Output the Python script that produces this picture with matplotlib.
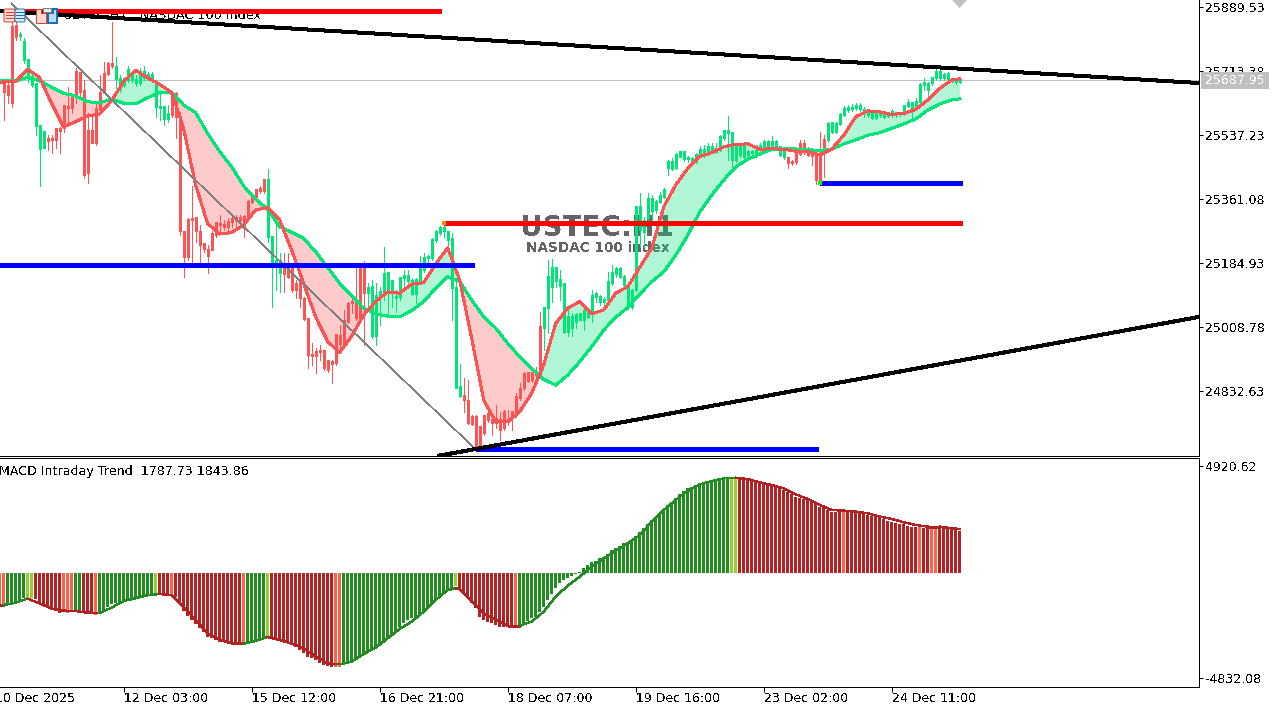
# -*- coding: utf-8 -*-
# USTEC H1 chart with MA cloud, levels and MACD pane
import matplotlib
matplotlib.use('Agg')
import matplotlib.pyplot as plt
from matplotlib.patches import Rectangle, Polygon, FancyBboxPatch

plt.rcParams['font.family'] = ['DejaVu Sans']
plt.rcParams['text.antialiased'] = False

opens = [
    25680,25675,25836,25840,25810,25744,25703,25675,25562,25498,
    25501,25528,25528,25556,25556,25620,25617,25643,25712,25709,
    25661,25549,25549,25611,25654,25707,25735,25735,25691,25663,
    25675,25689,25689,25680,25680,25693,25696,25689,25615,25611,
    25581,25581,25652,25652,25588,25272,25304,25308,25310,25273,
    25238,25224,25267,25296,25294,25292,25301,25308,25310,25311,
    25313,25356,25370,25389,25391,25416,25256,25184,25184,25157,
    25184,25171,25175,25129,25140,25088,25033,24935,24941,24946,
    24946,24916,24914,24989,24987,25028,25074,25079,25079,25175,
    25172,25102,24983,24983,25097,25100,25102,25104,25088,25091,
    25143,25137,25100,25100,25137,25166,25198,25198,25248,25269,
    25272,25248,25116,24842,24819,24822,24808,24762,24762,24735,
    24767,24772,24756,24758,24756,24776,24756,24776,24817,24840,
    24882,24884,24884,24882,25010,25005,25061,25120,25136,25122,
    24996,24994,25005,25024,25028,25028,25038,25047,25093,25079,
    25077,25083,25129,25155,25148,25125,25065,25065,25111,25276,
    25271,25308,25327,25331,25354,25368,25446,25443,25446,25478,
    25471,25471,25460,25464,25482,25482,25487,25489,25492,25496,
    25528,25542,25469,25469,25482,25478,25482,25487,25482,25496,
    25505,25505,25505,25503,25482,25478,25475,25466,25489,25515,
    25515,25496,25492,25482,25487,25526,25524,25547,25547,25568,
    25593,25606,25608,25611,25608,25597,25592,25583,25583,25593,
    25586,25590,25593,25593,25594,25597,25617,25608,25611,25629,
    25675,25661,25680,25693,25693,25693,25691,25686,25682,25682]
closes = [
    25657,25648,25625,25808,25815,25794,25746,25698,25680,25565,
    25547,25522,25524,25524,25549,25556,25611,25611,25648,25657,
    25427,25432,25515,25515,25606,25652,25705,25727,25726,25693,
    25693,25718,25707,25691,25712,25712,25703,25703,25684,25617,
    25615,25597,25593,25588,25272,25203,25201,25304,25272,25235,
    25224,25205,25221,25262,25290,25283,25283,25299,25304,25304,
    25281,25311,25354,25366,25382,25382,25416,25258,25192,25192,
    25155,25148,25111,25111,25088,25031,24932,24930,24929,24941,
    24895,24891,24907,24909,24962,24964,25024,25074,25033,25031,
    25102,25118,25122,25097,25106,25157,25159,25137,25093,25145,
    25150,25152,25138,25140,25171,25200,25203,25250,25272,25282,
    25282,25273,25253,25117,24845,24808,24744,24742,24675,24675,
    24717,24753,24746,24744,24726,24730,24749,24767,24767,24813,
    24840,24861,24863,24877,24877,25063,25148,25172,25172,25140,
    25129,25038,25038,25044,25047,25054,25054,25097,25102,25093,
    25086,25134,25159,25171,25171,25149,25127,25111,25342,25342,
    25302,25363,25363,25354,25370,25388,25464,25464,25484,25492,
    25492,25476,25473,25485,25498,25498,25505,25505,25501,25533,
    25549,25549,25545,25510,25510,25510,25492,25492,25496,25510,
    25519,25519,25519,25519,25505,25492,25460,25461,25462,25484,
    25492,25482,25480,25414,25411,25487,25570,25571,25570,25595,
    25611,25614,25614,25620,25620,25608,25597,25599,25597,25597,
    25595,25597,25602,25599,25599,25620,25626,25626,25629,25678,
    25682,25680,25696,25712,25712,25705,25707,25691,25686,25689]
highs = [
    25689,25680,25881,25863,25822,25804,25748,25703,25680,25565,
    25547,25538,25538,25556,25560,25620,25670,25643,25721,25709,
    25689,25597,25588,25625,25703,25739,25739,25849,25753,25703,
    25693,25726,25712,25703,25721,25726,25712,25712,25689,25652,
    25615,25620,25657,25657,25600,25272,25308,25397,25310,25290,
    25238,25235,25272,25299,25317,25304,25308,25313,25317,25317,
    25317,25359,25372,25389,25397,25416,25443,25258,25293,25212,
    25212,25212,25175,25138,25140,25093,25033,24964,24950,24960,
    24946,24918,24918,24989,25015,25056,25079,25097,25171,25175,
    25192,25129,25138,25129,25120,25230,25161,25137,25111,25148,
    25166,25166,25143,25143,25205,25212,25207,25253,25276,25287,
    25287,25273,25267,25143,24907,24868,24863,24767,24767,24735,
    24767,24785,24767,24794,24776,24781,24781,24776,24827,24854,
    24886,24884,24886,24900,25051,25063,25193,25195,25172,25166,
    25129,25060,25047,25047,25047,25060,25060,25111,25106,25097,
    25093,25161,25180,25175,25175,25152,25129,25115,25342,25377,
    25313,25379,25372,25359,25381,25391,25469,25473,25487,25494,
    25493,25480,25478,25487,25507,25510,25515,25515,25515,25537,
    25551,25590,25545,25515,25515,25515,25496,25496,25510,25516,
    25524,25524,25535,25524,25508,25496,25478,25470,25496,25524,
    25524,25505,25494,25487,25547,25537,25574,25574,25574,25597,
    25617,25620,25623,25626,25625,25614,25602,25602,25602,25602,
    25597,25602,25608,25602,25602,25620,25636,25629,25640,25680,
    25693,25684,25698,25718,25718,25709,25712,25693,25691,25691]
lows = [
    25579,25625,25615,25799,25799,25735,25684,25669,25537,25398,
    25501,25496,25487,25501,25489,25547,25570,25597,25625,25643,
    25418,25406,25515,25510,25597,25652,25703,25721,25666,25657,
    25670,25684,25684,25672,25675,25689,25689,25682,25588,25579,
    25565,25574,25588,25528,25262,25146,25193,25184,25244,25184,
    25216,25159,25221,25258,25272,25276,25267,25285,25281,25285,
    25258,25308,25349,25363,25379,25379,25244,25065,25111,25106,
    25106,25143,25106,25088,25065,25028,24895,24905,24883,24918,
    24891,24886,24856,24905,24937,24960,25019,25047,25028,25028,
    24960,25056,24978,24960,25015,25083,25038,25065,25051,25083,
    25111,25125,25097,25074,25134,25161,25175,25193,25244,25262,
    25258,25235,25028,24842,24817,24776,24742,24739,24675,24675,
    24712,24749,24712,24730,24698,24726,24739,24726,24762,24808,
    24836,24859,24859,24859,24873,24946,24992,25079,25120,25083,
    24992,24983,24983,25005,25028,25001,25033,25024,25079,25070,
    25065,25083,25125,25148,25143,25120,25060,25060,25106,25230,
    25230,25304,25304,25322,25349,25363,25427,25441,25443,25476,
    25467,25464,25455,25461,25480,25478,25482,25487,25489,25494,
    25525,25469,25437,25464,25478,25473,25473,25476,25478,25492,
    25496,25501,25501,25498,25480,25471,25448,25455,25459,25482,
    25485,25480,25455,25403,25406,25423,25519,25544,25544,25565,
    25590,25602,25604,25606,25604,25588,25586,25581,25581,25588,
    25583,25586,25588,25588,25590,25593,25614,25588,25606,25626,
    25661,25643,25675,25689,25689,25689,25684,25682,25678,25680]

ma_idx = [-1] + list(range(0, 238, 3)) + [239]
slow_ma = [
    25687,
    25687,25686,25696,25687,25669,25652,25645,25629,25626,25636,
    25625,25623,25640,25654,25656,25620,25599,25542,25492,25450,
    25397,25361,25333,25285,25270,25253,25216,25173,25129,25095,
    25061,25045,25039,25037,25054,25079,25116,25148,25134,25083,
    25037,25006,24964,24927,24895,24865,24849,24877,24914,24955,
    25001,25036,25063,25100,25134,25161,25207,25262,25326,25372,
    25414,25450,25471,25485,25498,25499,25499,25497,25495,25499,
    25513,25524,25537,25544,25556,25568,25582,25606,25623,25634,
    25637]
fast_ma = [
    25682,
    25684,25684,25718,25696,25625,25560,25574,25590,25595,25632,
    25684,25716,25695,25677,25654,25556,25400,25294,25265,25269,
    25290,25331,25338,25304,25221,25129,25037,24969,24939,24984,
    25042,25079,25106,25102,25127,25131,25182,25227,25138,24978,
    24808,24748,24748,24776,24827,24905,25019,25061,25079,25045,
    25056,25102,25120,25173,25226,25340,25400,25446,25478,25489,
    25505,25512,25513,25498,25500,25498,25493,25492,25482,25499,
    25537,25588,25604,25601,25594,25597,25608,25634,25666,25689,
    25692]

hist_vals = [
    -1472,-1441,-1426,-1318,-1242,-1165,-1165,-1165,-1211,-1395,
    -1472,-1594,-1671,-1732,-1855,-1778,-1824,-1809,-1748,-1748,
    -1778,-1840,-1886,-1932,-1809,-1702,-1548,-1441,-1364,-1318,
    -1288,-1242,-1211,-1165,-1119,-1088,-1042,-1012,-935,-981,
    -1012,-1058,-1012,-1088,-1395,-1732,-1978,-2162,-2361,-2545,
    -2729,-2928,-3005,-3081,-3158,-3189,-3235,-3265,-3281,-3281,
    -3235,-3158,-3158,-3127,-3081,-2974,-2928,-3035,-3051,-3112,
    -3158,-3235,-3311,-3388,-3541,-3695,-3848,-3924,-4001,-4154,
    -4231,-4277,-4308,-4308,-4308,-4154,-4108,-4078,-3955,-3848,
    -3695,-3618,-3541,-3388,-3281,-3158,-3005,-2851,-2698,-2468,
    -2315,-2162,-2085,-2008,-1901,-1778,-1594,-1426,-1242,-1088,
    -889,-782,-705,-598,-782,-935,-1165,-1395,-1625,-2008,
    -2162,-2238,-2315,-2391,-2468,-2468,-2499,-2514,-2422,-2391,
    -2315,-2208,-2085,-2008,-1809,-1548,-1242,-981,-705,-475,
    -322,-215,-123,-61,31,215,368,491,567,675,
    751,874,1058,1134,1257,1364,1364,1472,1702,1870,
    2054,2254,2437,2591,2744,2928,3127,3281,3465,3633,
    3771,3894,3970,4047,4124,4154,4200,4262,4308,4354,
    4384,4384,4354,4354,4323,4292,4262,4231,4200,4170,
    4108,4047,4016,3970,3894,3817,3741,3618,3511,3434,
    3403,3357,3281,3158,3051,2974,2897,2821,2821,2790,
    2790,2790,2790,2790,2744,2698,2667,2621,2560,2514,
    2468,2407,2361,2284,2254,2238,2177,2131,2100,2100,
    2085,2085,2085,2085,2085,2054,2024,2024,1978,1932]
# g rising, y turning up, r falling, o turning down
hist_state = ('o' + 'g'*5 + 'y'*2 + 'r'*7 + 'o'*3 + 'g'*2 + 'r'*3 + 'o' + 'g'*14 + 'y' + 'r'*3 + 'o'
              + 'r'*17 + 'o' + 'g'*5 + 'y' + 'r'*16 + 'o'*2 + 'g'*28 + 'y' + 'r'*14 + 'o'
              + 'g'*53 + 'y'*2 + 'r'*26 + 'o' + 'r'*18 + 'o' + 'r'*2 + 'o'*2 + 'r'*6)
hist_before = -1472  # bar just cut by the left edge

sig_idx = [-1] + list(range(0, 112, 3)) + [113, 114] + list(range(117, 238, 3)) + [239]
sig_vals = [
    -1472,
    -1472,-1364,-1180,-1395,-1640,-1732,-1748,-1824,-1840,-1594,
    -1288,-1165,-1027,-966,-1027,-1564,-2162,-2775,-3081,-3235,
    -3250,-3127,-2943,-3081,-3250,-3465,-3848,-4154,-4200,-4078,
    -3725,-3434,-3005,-2575,-2238,-1778,-1242,-782,-705,-751,
    -1318,-1855,-2162,-2422,-2422,-2238,-1778,-1088,-583,-169,
    291,675,1027,1364,1748,2361,2897,3357,3771,4078,
    4231,4354,4384,4323,4170,4047,3894,3618,3403,3127,
    2897,2867,2821,2744,2591,2484,2330,2208,2131,2131,
    2054,2024]

price_ticks = [25889.53, 25713.38, 25537.23, 25361.08, 25184.93, 25008.78, 24832.63]
macd_ticks = [4920.62, -4832.08]
time_idx = [-2, 30, 62, 94, 126, 158, 190, 222]
time_labels = ['10 Dec 2025', '12 Dec 03:00', '15 Dec 12:00', '16 Dec 21:00',
               '18 Dec 07:00', '19 Dec 16:00', '23 Dec 02:00', '24 Dec 11:00']
last_price = 25687.95

# levels: price, first bar, last bar
red_levels = [(25877.4, 2, 109.4), (25294.5, 110, 239.5)]
blue_levels = [(25179.7, -0.875, 117.6), (24672.5, 118, 203.6), (25404.6, 204, 239.5)]
# trend lines: (bar, price) ends
top_trend = ([-0.875, 298.625], [25878.7, 25680.6])
low_trend = ([108.4, 298.625], [24654.1, 25036.6])
diag_line = ([2, 118], [25900, 24672])

W, H = 1282, 709
BULL, BEAR = '#00E676', '#FF5252'
state_colors = {'g': '#228B22', 'y': '#9ACD32', 'r': '#B22222', 'o': '#FF6347'}
px = 72 / 100

fig = plt.figure(figsize=(W / 100, H / 100), dpi=100, facecolor='white')
ax = fig.add_axes([0, 1 - 456 / H, 1198.5 / W, 456 / H])
ax2 = fig.add_axes([0, 1 - 687 / H, 1198.5 / W, 229 / H])
xlim = (-0.875, 298.625)

# price pane
ax.set_xlim(*xlim)
ax.set_ylim(24654.1, 25909)
fast_up = [f >= s for f, s in zip(fast_ma, slow_ma)]
fast_dn = [f <= s for f, s in zip(fast_ma, slow_ma)]
ax.fill_between(ma_idx, fast_ma, slow_ma, where=fast_up, interpolate=True, color=BULL, alpha=0.3, lw=0, zorder=2)
ax.fill_between(ma_idx, fast_ma, slow_ma, where=fast_dn, interpolate=True, color=BEAR, alpha=0.3, lw=0, zorder=2)
ax.axhline(last_price, color='#C0C0C0', lw=px, zorder=1)

for i in range(len(opens)):
    col = BULL if closes[i] >= opens[i] else BEAR
    ax.vlines(i, lows[i], highs[i], color=col, lw=px, antialiased=False, zorder=3)
    ax.vlines(i, min(opens[i], closes[i]), max(opens[i], closes[i]) + 1, color=col, lw=3 * px,
              antialiased=False, zorder=3, capstyle='butt')

ax.plot(ma_idx, slow_ma, color=BULL, lw=2 * px, zorder=4, antialiased=False)
ax.plot(ma_idx, fast_ma, color=BEAR, lw=2 * px, zorder=4, antialiased=False)

ax.plot(*diag_line, color='#808080', lw=0.6 * px, zorder=5, antialiased=False)
for p, a, b in red_levels:
    ax.hlines(p, a, b, color='#FF0000', lw=5 * px, antialiased=False, zorder=5)
for p, a, b in blue_levels:
    ax.hlines(p, a, b, color='#0000FF', lw=5 * px, antialiased=False, zorder=5)
ax.plot([110], [red_levels[1][0]], 's', ms=4 * px, color='#FF8C00', mew=0, zorder=6)
ax.plot([118, 204], [blue_levels[1][0], blue_levels[2][0]], 's', ms=4 * px, color='#00FF00', mew=0, zorder=6)
ax.plot(*top_trend, color='black', lw=3 * px, zorder=7, solid_capstyle='butt', antialiased=False)
ax.plot(*low_trend, color='black', lw=3 * px, zorder=7, solid_capstyle='butt', antialiased=False)

ax.set_yticks(price_ticks)
ax.set_yticklabels([f'{t:.2f}' for t in price_ticks])
ax.set_xticks([])

ax.text(148.4, 25909 - 228 * 2.752, 'USTEC:H1', fontsize=20, fontweight='bold',
        color='#646464', ha='center', va='center', zorder=1)
ax.text(148.4, 25909 - 248 * 2.752, 'NASDAC 100 index', fontsize=9.8, fontweight='bold',
        color='#646464', ha='center', va='center', zorder=1)

# macd pane
ax2.set_xlim(*xlim)
ax2.set_ylim(-5244, 5290)
ax2.bar(range(len(hist_vals)), hist_vals, width=0.75, color=[state_colors[s] for s in hist_state],
        linewidth=0, antialiased=False, zorder=2)
ax2.bar(-1, hist_before, width=0.75, color=state_colors['o'], linewidth=0, antialiased=False, zorder=2)
for j in range(len(sig_idx) - 1):
    rising = sig_vals[j + 1] > sig_vals[j]
    ax2.plot(sig_idx[j:j + 2], sig_vals[j:j + 2], color=state_colors['g' if rising else 'r'],
             lw=1.4 * px, zorder=3, solid_capstyle='round', antialiased=False)
ax2.set_yticks(macd_ticks)
ax2.set_yticklabels([f'{t:.2f}' for t in macd_ticks])
ax2.set_xticks([t for t in time_idx if t >= xlim[0]])
ax2.set_xticklabels([])
ax2.tick_params(axis='x', length=5 * px, width=px, direction='out')

for a in (ax, ax2):
    a.yaxis.tick_right()
    a.tick_params(axis='y', length=4 * px, width=px, pad=2, labelsize=9)
    a.spines['left'].set_visible(False)
    a.spines['top'].set_visible(a is ax2)
    for s in a.spines.values():
        s.set_linewidth(px)

for t, lab in zip(time_idx, time_labels):
    ax2.annotate(lab, xy=(t, 0), xycoords=('data', 'axes fraction'), xytext=(0, -5 * px),
                 textcoords='offset points', ha='left', va='top', fontsize=9, annotation_clip=False)

# overlay in pixels for labels and toolbar icons
ov = fig.add_axes([0, 0, 1, 1], zorder=10)
ov.set_xlim(0, W)
ov.set_ylim(H, 0)
ov.axis('off')
ax.annotate('USTEC,H1:  NASDAC 100 Index', xy=(63, 16), xycoords=ov.transData, fontsize=9.2,
            va='center', ha='left', zorder=2)
ov.text(-1, 471.5, 'MACD Intraday Trend  1787.73 1843.86', fontsize=9.1, va='center', ha='left')
ov.add_patch(Polygon([(952, 0), (967, 0), (959.5, 8)], closed=True, fc='#C0C0C0', ec='none'))
ov.add_patch(Rectangle((1201, 72), 68, 17, fc='#C0C0C0', ec='none'))
ov.text(1205, 81, f'{last_price:.2f}', color='white', fontsize=9, va='center', ha='left')

# one-click trading icons
ov.add_patch(FancyBboxPatch((4, 9), 11, 13, boxstyle='round,pad=0,rounding_size=1.5', fc='#FFD9D0', ec='#D9432F', lw=px))
ov.add_patch(FancyBboxPatch((15, 9), 10, 13, boxstyle='round,pad=0,rounding_size=1.5', fc='#D6ECFA', ec='#1F6FB0', lw=px))
for yy in (12, 15, 18):
    ov.plot([6, 14], [yy, yy], color='#D9432F', lw=px)
    ov.plot([16, 24], [yy, yy], color='#1F6FB0', lw=px)
ov.add_patch(Polygon([(36, 9), (41, 9), (41, 13), (46, 13), (46, 23), (36, 23)], closed=True,
                     fc='#FFD9D0', ec='#D9432F', lw=px))
ov.add_patch(Polygon([(48, 13), (53, 13), (53, 9), (57, 9), (57, 23), (48, 23)], closed=True,
                     fc='#B8DCF5', ec='#1F6FB0', lw=2 * px))
ov.add_patch(Rectangle((43, 8), 8, 4, fc='#F0F0F0', ec='#808080', lw=px))

plt.savefig('out.png', dpi=100)
